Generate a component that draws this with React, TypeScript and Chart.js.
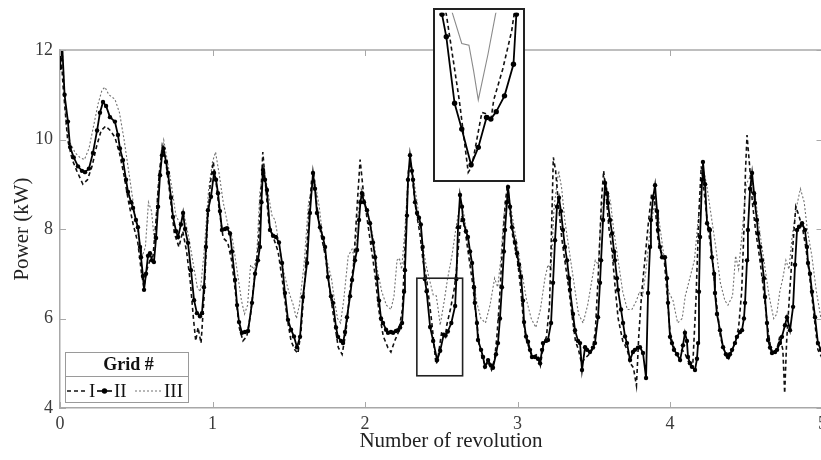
import React, { useEffect, useRef } from 'react';
import { Chart, registerables } from 'chart.js';

Chart.register(...registerables);

// ---------- data ----------
const xTickValues = [0, 1, 2, 3, 4, 5];
const yTickValues = [4, 6, 8, 10, 12];
const seriesNames = ['I', 'II', 'III'];
const legendTitle = 'Grid #';
const xTitle = 'Number of revolution';
const yTitle = 'Power (kW)';

// [revolution, power kW]
const gridI: [number, number][] = [
  [0, 12.3], [0.02, 11.2], [0.05, 10.0], [0.08, 9.55], [0.11, 9.3], [0.15, 9.0], [0.18, 9.1], [0.21, 9.4],
  [0.24, 9.85], [0.27, 10.2], [0.3, 10.3], [0.33, 10.2], [0.36, 10.05], [0.39, 9.7], [0.42, 9.2], [0.45, 8.6],
  [0.48, 8.1], [0.51, 7.7], [0.535, 7.0], [0.55, 6.7], [0.57, 7.1], [0.59, 7.3], [0.61, 7.4], [0.63, 8.2],
  [0.65, 9.2], [0.67, 9.85], [0.69, 9.6], [0.72, 8.8], [0.75, 7.9], [0.78, 7.6], [0.805, 7.95], [0.83, 7.5],
  [0.855, 6.8], [0.875, 6.0], [0.89, 5.5], [0.905, 5.8], [0.925, 5.45], [0.945, 6.5], [0.965, 8.0], [0.985, 9.0],
  [1.005, 9.5], [1.025, 9.0], [1.045, 8.4], [1.07, 7.8], [1.1, 7.7], [1.125, 7.3], [1.15, 6.6], [1.175, 5.8],
  [1.2, 5.5], [1.225, 5.6], [1.25, 6.1], [1.275, 6.9], [1.3, 7.6], [1.315, 8.6], [1.33, 9.72], [1.345, 9.1],
  [1.37, 8.1], [1.4, 7.8], [1.43, 7.5], [1.46, 6.8], [1.49, 6.0], [1.515, 5.5], [1.54, 5.3], [1.56, 5.22],
  [1.58, 5.7], [1.6, 6.6], [1.625, 7.9], [1.65, 9.1], [1.665, 9.2], [1.685, 8.5], [1.71, 7.9], [1.74, 7.4],
  [1.77, 6.6], [1.8, 5.9], [1.825, 5.35], [1.85, 5.2], [1.875, 5.7], [1.9, 6.6], [1.925, 7.2], [1.95, 8.6],
  [1.968, 9.55], [1.99, 8.8], [2.015, 8.2], [2.04, 7.6], [2.065, 7.0], [2.09, 6.2], [2.12, 5.6], [2.15, 5.35],
  [2.17, 5.25], [2.195, 5.5], [2.22, 5.7], [2.245, 6.2], [2.265, 7.8], [2.285, 9.3], [2.3, 9.5], [2.315, 9.0],
  [2.335, 8.4], [2.36, 7.9], [2.38, 7.3], [2.404, 6.88], [2.44, 5.85], [2.465, 4.98], [2.475, 5.05], [2.503, 5.7],
  [2.518, 5.68], [2.528, 5.6], [2.536, 5.85], [2.561, 6.22], [2.586, 6.68], [2.6, 7.1], [2.62, 7.9], [2.635, 8.3],
  [2.655, 8.0], [2.68, 7.4], [2.705, 6.8], [2.73, 6.0], [2.75, 5.4], [2.77, 5.1], [2.79, 4.95], [2.81, 5.0],
  [2.83, 4.85], [2.85, 5.1], [2.865, 5.6], [2.88, 6.3], [2.9, 7.5], [2.92, 8.6], [2.935, 9.0], [2.95, 8.4],
  [2.97, 7.8], [3.0, 7.3], [3.02, 6.7], [3.04, 5.9], [3.06, 5.5], [3.08, 5.3], [3.1, 5.15], [3.13, 5.2],
  [3.15, 4.95], [3.17, 5.4], [3.19, 5.6], [3.21, 6.3], [3.222, 7.8], [3.235, 9.6], [3.25, 9.3], [3.27, 8.5],
  [3.29, 7.8], [3.31, 7.3], [3.335, 6.7], [3.36, 6.0], [3.38, 5.5], [3.4, 5.3], [3.42, 5.0], [3.44, 5.1],
  [3.47, 5.2], [3.49, 5.3], [3.51, 5.7], [3.53, 7.0], [3.55, 8.6], [3.565, 9.3], [3.58, 8.8], [3.6, 8.0],
  [3.62, 7.5], [3.64, 6.7], [3.66, 6.0], [3.69, 5.5], [3.72, 5.3], [3.74, 5.0], [3.76, 4.9], [3.78, 4.5],
  [3.795, 5.6], [3.815, 6.6], [3.835, 7.3], [3.86, 8.2], [3.88, 8.8], [3.9, 8.6], [3.92, 7.8], [3.94, 7.5],
  [3.96, 7.4], [3.98, 6.6], [4.0, 5.7], [4.02, 5.4], [4.05, 5.2], [4.08, 5.3], [4.1, 5.2], [4.125, 5.0],
  [4.15, 5.0], [4.17, 6.4], [4.19, 8.4], [4.205, 9.4], [4.225, 8.8], [4.25, 8.0], [4.28, 7.3], [4.3, 6.5],
  [4.33, 5.6], [4.36, 5.2], [4.385, 5.1], [4.41, 5.3], [4.43, 5.5], [4.45, 5.8], [4.47, 6.6], [4.485, 8.0],
  [4.495, 9.3], [4.505, 10.1], [4.52, 9.5], [4.54, 8.6], [4.56, 8.0], [4.59, 7.3], [4.615, 6.6], [4.64, 5.8],
  [4.66, 5.35], [4.68, 5.2], [4.7, 5.3], [4.72, 5.6], [4.74, 5.3], [4.752, 4.33], [4.765, 5.5], [4.785, 6.6],
  [4.805, 7.6], [4.825, 8.5], [4.845, 8.3], [4.87, 8.0], [4.89, 7.6], [4.91, 7.1], [4.93, 6.5], [4.95, 5.9],
  [4.97, 5.3], [5.0, 5.1],
];

const gridII: [number, number][] = [
  [0, 11.6], [0.013, 12.2], [0.03, 11.0], [0.052, 10.4], [0.066, 9.83], [0.09, 9.6], [0.118, 9.4], [0.144, 9.3],
  [0.164, 9.27], [0.19, 9.35], [0.216, 9.7], [0.243, 10.2], [0.262, 10.6], [0.282, 10.84], [0.302, 10.75], [0.328, 10.5],
  [0.36, 10.4], [0.38, 10.1], [0.393, 9.8], [0.413, 9.54], [0.433, 9.1], [0.446, 8.83], [0.466, 8.6], [0.479, 8.47],
  [0.498, 8.2], [0.511, 8.04], [0.525, 7.6], [0.531, 7.37], [0.544, 6.95], [0.551, 6.64], [0.564, 7.0], [0.577, 7.4],
  [0.59, 7.46], [0.603, 7.3], [0.616, 7.26], [0.63, 7.8], [0.643, 8.5], [0.656, 9.2], [0.669, 9.65], [0.679, 9.8],
  [0.695, 9.5], [0.708, 9.25], [0.728, 8.7], [0.741, 8.27], [0.761, 7.95], [0.774, 7.82], [0.793, 8.1], [0.807, 8.36],
  [0.82, 8.0], [0.839, 7.69], [0.859, 7.08], [0.879, 6.41], [0.898, 6.12], [0.918, 6.05], [0.931, 6.12], [0.944, 6.7],
  [0.957, 7.6], [0.97, 8.42], [0.99, 8.72], [1.01, 9.25], [1.023, 9.1], [1.036, 8.8], [1.049, 8.4], [1.062, 7.98],
  [1.082, 8.0], [1.095, 8.02], [1.115, 7.9], [1.128, 7.5], [1.148, 6.86], [1.161, 6.3], [1.174, 5.92], [1.193, 5.68],
  [1.213, 5.7], [1.233, 5.72], [1.259, 6.35], [1.279, 7.0], [1.298, 7.3], [1.311, 7.6], [1.321, 8.6], [1.331, 9.32],
  [1.344, 9.1], [1.357, 8.87], [1.377, 7.98], [1.397, 7.85], [1.416, 7.82], [1.436, 7.7], [1.456, 7.24], [1.475, 6.57],
  [1.495, 5.97], [1.515, 5.75], [1.534, 5.6], [1.554, 5.36], [1.574, 5.59], [1.593, 6.48], [1.62, 7.24], [1.639, 8.36],
  [1.659, 9.25], [1.672, 8.9], [1.685, 8.36], [1.705, 8.04], [1.725, 7.8], [1.738, 7.6], [1.757, 6.93], [1.777, 6.5],
  [1.79, 6.35], [1.81, 5.8], [1.823, 5.59], [1.843, 5.5], [1.856, 5.45], [1.869, 5.7], [1.882, 6.03], [1.902, 6.5],
  [1.915, 6.86], [1.934, 7.3], [1.948, 7.53], [1.961, 8.2], [1.97, 8.6], [1.98, 8.8], [1.993, 8.6], [2.013, 8.42],
  [2.033, 8.13], [2.052, 7.7], [2.066, 7.37], [2.079, 6.9], [2.092, 6.4], [2.105, 6.0], [2.118, 5.9], [2.138, 5.75],
  [2.151, 5.68], [2.17, 5.7], [2.184, 5.68], [2.203, 5.72], [2.216, 5.74], [2.23, 5.8], [2.243, 5.9], [2.256, 6.6],
  [2.262, 7.08], [2.275, 8.3], [2.282, 9.1], [2.295, 9.65], [2.308, 9.3], [2.315, 9.1], [2.328, 8.6], [2.341, 8.36],
  [2.354, 8.25], [2.366, 8.1], [2.378, 7.6], [2.392, 6.88], [2.404, 6.61], [2.427, 5.81], [2.447, 5.5], [2.473, 5.07],
  [2.493, 5.28], [2.516, 5.64], [2.528, 5.62], [2.543, 5.71], [2.566, 5.9], [2.591, 6.28], [2.599, 6.88], [2.61, 8.04],
  [2.623, 8.76], [2.636, 8.5], [2.643, 8.2], [2.662, 7.95], [2.675, 7.82], [2.689, 7.5], [2.702, 7.24], [2.715, 6.7],
  [2.72, 6.35], [2.734, 5.9], [2.741, 5.52], [2.761, 5.3], [2.774, 5.14], [2.787, 4.92], [2.807, 5.07], [2.826, 4.95],
  [2.839, 4.9], [2.859, 5.2], [2.872, 5.45], [2.885, 6.0], [2.898, 6.7], [2.911, 7.5], [2.918, 7.98], [2.931, 8.6],
  [2.938, 8.94], [2.951, 8.5], [2.964, 8.04], [2.984, 7.7], [2.997, 7.46], [3.01, 7.2], [3.023, 6.93], [3.036, 6.4],
  [3.043, 5.92], [3.056, 5.6], [3.069, 5.48], [3.082, 5.3], [3.095, 5.14], [3.115, 5.14], [3.134, 5.1], [3.148, 5.0],
  [3.161, 5.3], [3.167, 5.45], [3.187, 5.5], [3.2, 5.52], [3.22, 5.9], [3.233, 6.8], [3.246, 7.75], [3.259, 8.5],
  [3.272, 8.7], [3.285, 8.4], [3.298, 7.98], [3.311, 7.6], [3.325, 7.3], [3.338, 6.9], [3.344, 6.64], [3.364, 6.1],
  [3.377, 5.74], [3.397, 5.5], [3.41, 5.45], [3.423, 4.85], [3.443, 5.36], [3.456, 5.3], [3.475, 5.25], [3.495, 5.35],
  [3.508, 5.45], [3.528, 6.03], [3.541, 6.8], [3.548, 7.3], [3.561, 8.2], [3.574, 9.03], [3.587, 8.8], [3.593, 8.58],
  [3.607, 8.2], [3.62, 7.9], [3.633, 7.5], [3.639, 7.3], [3.652, 6.9], [3.659, 6.64], [3.679, 6.2], [3.692, 5.9],
  [3.705, 5.6], [3.718, 5.45], [3.738, 5.07], [3.757, 5.25], [3.77, 5.3], [3.79, 5.35], [3.803, 5.36], [3.823, 5.23],
  [3.843, 4.67], [3.856, 6.57], [3.869, 7.6], [3.875, 8.2], [3.889, 8.7], [3.902, 8.98], [3.915, 8.4], [3.921, 7.98],
  [3.934, 7.6], [3.948, 7.37], [3.967, 7.37], [3.98, 6.9], [3.987, 6.35], [4.0, 5.59], [4.013, 5.45], [4.026, 5.3],
  [4.046, 5.2], [4.066, 5.07], [4.085, 5.4], [4.098, 5.68], [4.111, 5.5], [4.118, 5.14], [4.131, 5.0], [4.144, 4.92],
  [4.164, 4.85], [4.177, 5.1], [4.184, 5.45], [4.19, 6.6], [4.197, 7.82], [4.21, 9.1], [4.216, 9.5], [4.23, 9.0],
  [4.243, 8.13], [4.256, 8.0], [4.262, 7.98], [4.275, 7.37], [4.289, 7.0], [4.295, 6.57], [4.308, 6.1], [4.328, 5.74],
  [4.348, 5.36], [4.367, 5.2], [4.38, 5.14], [4.393, 5.2], [4.407, 5.3], [4.426, 5.45], [4.439, 5.59], [4.459, 5.7],
  [4.472, 5.74], [4.485, 6.0], [4.492, 6.35], [4.505, 7.3], [4.511, 7.98], [4.525, 8.9], [4.538, 9.25], [4.551, 8.8],
  [4.557, 8.58], [4.57, 8.2], [4.577, 7.9], [4.59, 7.6], [4.603, 7.3], [4.616, 6.9], [4.623, 6.48], [4.636, 5.9],
  [4.643, 5.52], [4.656, 5.35], [4.669, 5.23], [4.689, 5.25], [4.702, 5.3], [4.721, 5.45], [4.734, 5.59], [4.754, 5.85],
  [4.767, 6.03], [4.787, 5.74], [4.807, 6.26], [4.82, 7.2], [4.833, 7.98], [4.846, 8.05], [4.866, 8.13], [4.885, 7.98],
  [4.898, 7.6], [4.905, 7.24], [4.918, 7.0], [4.931, 6.6], [4.951, 6.03], [4.97, 5.45], [4.99, 5.3], [5.01, 5.2],
];

const gridIII: [number, number][] = [
  [0, 12.1], [0.012, 12.3], [0.04, 10.3], [0.07, 9.9], [0.1, 9.7], [0.13, 9.6], [0.16, 9.55], [0.19, 9.8],
  [0.22, 10.3], [0.25, 10.8], [0.275, 11.1], [0.295, 11.17], [0.32, 11.0], [0.36, 10.9], [0.39, 10.6], [0.42, 10.0],
  [0.45, 9.3], [0.48, 8.6], [0.51, 7.9], [0.54, 7.4], [0.56, 7.6], [0.58, 8.6], [0.6, 8.4], [0.62, 7.7],
  [0.64, 8.8], [0.665, 9.7], [0.68, 9.99], [0.7, 9.6], [0.73, 9.0], [0.76, 8.3], [0.79, 8.1], [0.815, 8.3],
  [0.845, 7.8], [0.875, 7.2], [0.9, 6.7], [0.92, 6.6], [0.945, 7.5], [0.975, 8.9], [1.0, 9.5], [1.02, 9.72],
  [1.045, 9.2], [1.07, 8.6], [1.1, 8.1], [1.13, 7.8], [1.16, 7.1], [1.19, 6.4], [1.21, 6.1], [1.23, 6.3],
  [1.25, 7.2], [1.27, 7.1], [1.29, 7.4], [1.31, 8.8], [1.335, 9.4], [1.36, 8.9], [1.39, 8.3], [1.41, 8.2],
  [1.44, 7.6], [1.47, 7.0], [1.5, 6.6], [1.53, 6.3], [1.55, 6.0], [1.57, 6.3], [1.6, 7.2], [1.63, 8.6],
  [1.67, 9.1], [1.7, 8.5], [1.72, 7.9], [1.75, 7.3], [1.78, 6.9], [1.8, 6.4], [1.82, 6.0], [1.84, 5.9],
  [1.86, 6.4], [1.89, 7.4], [1.915, 7.55], [1.935, 7.3], [1.95, 8.2], [1.975, 8.9], [2.0, 8.6], [2.03, 8.2],
  [2.06, 7.7], [2.08, 7.1], [2.11, 6.6], [2.14, 6.3], [2.17, 6.2], [2.19, 6.5], [2.21, 7.3], [2.225, 7.35],
  [2.24, 7.1], [2.26, 7.9], [2.28, 9.0], [2.3, 9.5], [2.32, 9.1], [2.35, 8.4], [2.38, 7.6], [2.4, 7.2],
  [2.422, 6.88], [2.447, 6.53], [2.467, 6.51], [2.48, 6.2], [2.493, 5.85], [2.52, 6.4], [2.541, 6.88], [2.57, 7.4],
  [2.6, 8.1], [2.625, 8.6], [2.65, 8.3], [2.68, 7.6], [2.71, 7.0], [2.73, 6.4], [2.76, 6.0], [2.79, 5.9],
  [2.82, 6.3], [2.85, 6.9], [2.87, 6.7], [2.89, 7.3], [2.91, 8.3], [2.94, 8.8], [2.97, 8.2], [3.0, 7.6],
  [3.03, 7.0], [3.06, 6.4], [3.09, 6.0], [3.12, 5.8], [3.15, 6.2], [3.18, 6.9], [3.2, 7.2], [3.22, 7.1],
  [3.24, 8.5], [3.27, 9.3], [3.29, 8.9], [3.31, 8.2], [3.34, 7.5], [3.37, 6.8], [3.4, 6.1], [3.43, 5.9],
  [3.46, 6.3], [3.49, 6.9], [3.51, 7.3], [3.53, 7.2], [3.55, 8.4], [3.58, 9.0], [3.61, 8.6], [3.63, 8.0],
  [3.66, 7.3], [3.69, 6.6], [3.72, 6.2], [3.75, 6.2], [3.78, 6.4], [3.8, 6.6], [3.82, 6.5], [3.84, 7.0],
  [3.87, 8.0], [3.9, 8.6], [3.92, 8.4], [3.94, 7.9], [3.96, 7.4], [3.99, 6.6], [4.02, 6.4], [4.05, 5.9],
  [4.08, 6.0], [4.1, 6.5], [4.13, 6.9], [4.16, 7.3], [4.19, 8.4], [4.22, 9.3], [4.24, 9.0], [4.27, 8.3],
  [4.3, 7.6], [4.33, 6.8], [4.36, 6.4], [4.38, 6.3], [4.41, 6.5], [4.43, 7.4], [4.45, 7.1], [4.47, 7.8],
  [4.5, 9.0], [4.53, 9.2], [4.56, 8.7], [4.59, 7.9], [4.62, 7.2], [4.65, 6.5], [4.68, 6.0], [4.7, 6.1],
  [4.72, 6.6], [4.74, 6.9], [4.76, 7.3], [4.78, 7.1], [4.8, 7.8], [4.83, 8.5], [4.855, 8.9], [4.88, 8.6],
  [4.9, 8.0], [4.93, 7.4], [4.96, 6.6], [4.99, 6.0],
];

// zoomed window marked on the main plot, and the range shown in the inset
const zoomWindow = [2.34, 2.64, 4.72, 6.9];
const insetRange = [2.38, 2.61, 4.92, 6.9];

// ---------- styling ----------
const SERIF = '"Liberation Serif", "Times New Roman", "DejaVu Serif", serif';
const AXIS = '#a8a8a8';
const TEXT = '#3a3a3a';

const toPts = (arr: [number, number][]) => arr.map(([x, y]) => ({ x, y }));

function makeDatasets(inset: boolean) {
  return [
    {
      label: seriesNames[1], data: toPts(gridII), borderColor: '#000', borderWidth: 1.8,
      pointRadius: inset ? 2.7 : 2.2, pointHoverRadius: 0, pointBackgroundColor: '#000', pointBorderWidth: 0,
      pointStyle: 'circle', tension: 0, fill: false,
    },
    {
      label: seriesNames[0], data: toPts(gridI), borderColor: '#111', borderWidth: 1.6, borderDash: [4, 3],
      pointRadius: 0, tension: 0, fill: false,
    },
    {
      label: seriesNames[2], data: toPts(gridIII), borderColor: inset ? '#8a8a8a' : '#707070',
      borderWidth: 1.1, borderDash: inset ? [] : [2, 2], pointRadius: 0, tension: 0, fill: false,
    },
  ];
}

const decorPlugin = {
  id: 'decor',
  afterDatasetsDraw(chart: any) {
    const { ctx, chartArea: a, scales } = chart;
    const x = scales.x, y = scales.y;
    ctx.save();
    const line = (x1: number, y1: number, x2: number, y2: number) => {
      ctx.beginPath(); ctx.moveTo(x1, y1); ctx.lineTo(x2, y2); ctx.stroke();
    };
    // top frame line
    ctx.strokeStyle = AXIS; ctx.lineWidth = 1.5; ctx.setLineDash([]);
    line(a.left, a.top, a.right, a.top);
    // inward ticks
    ctx.lineWidth = 1;
    xTickValues.forEach((v) => {
      const px = Math.round(x.getPixelForValue(v)) + 0.5;
      line(px, a.bottom, px, a.bottom - 6);
      line(px, a.top, px, a.top + 6);
    });
    yTickValues.forEach((v) => {
      const py = Math.round(y.getPixelForValue(v)) + 0.5;
      line(a.left, py, a.left + 6, py);
      line(a.right, py, a.right - 6, py);
    });
    // zoom window rectangle
    const bx0 = x.getPixelForValue(zoomWindow[0]);
    const bx1 = x.getPixelForValue(zoomWindow[1]);
    const by0 = y.getPixelForValue(zoomWindow[3]);
    const by1 = y.getPixelForValue(zoomWindow[2]);
    ctx.strokeStyle = '#222'; ctx.lineWidth = 1.6;
    ctx.strokeRect(bx0, by0, bx1 - bx0, by1 - by0);

    // legend
    const lx = a.left + 5, ly = a.bottom - 56, lw = 123, lh = 50;
    ctx.fillStyle = '#fff'; ctx.fillRect(lx, ly, lw, lh);
    ctx.strokeStyle = '#9a9a9a'; ctx.lineWidth = 1;
    ctx.strokeRect(lx + 0.5, ly + 0.5, lw, lh);
    line(lx, ly + 24.5, lx + lw, ly + 24.5);
    ctx.fillStyle = '#111';
    ctx.textBaseline = 'middle';
    ctx.textAlign = 'center';
    ctx.font = `bold 18px ${SERIF}`;
    ctx.fillText(legendTitle, lx + lw / 2 + 2, ly + 13);
    const ry = ly + 39;
    ctx.font = `19px ${SERIF}`;
    ctx.textAlign = 'left';
    // I
    ctx.strokeStyle = '#111'; ctx.lineWidth = 1.5; ctx.setLineDash([4, 3]);
    line(lx + 2, ry, lx + 22, ry);
    ctx.setLineDash([]);
    ctx.fillText(seriesNames[0], lx + 24, ry + 1);
    // II
    ctx.strokeStyle = '#000'; ctx.lineWidth = 1.6;
    line(lx + 32, ry, lx + 47, ry);
    ctx.fillStyle = '#000';
    ctx.beginPath(); ctx.arc(lx + 39.5, ry, 2.7, 0, Math.PI * 2); ctx.fill();
    ctx.fillStyle = '#111';
    ctx.fillText(seriesNames[1], lx + 49, ry + 1);
    // III
    ctx.strokeStyle = '#707070'; ctx.lineWidth = 1; ctx.setLineDash([2, 2]);
    line(lx + 70, ry, lx + 97, ry);
    ctx.setLineDash([]);
    ctx.fillText(seriesNames[2], lx + 99, ry + 1);

    // axis titles
    ctx.fillStyle = '#222';
    ctx.font = `21px ${SERIF}`;
    ctx.textAlign = 'center';
    ctx.textBaseline = 'middle';
    ctx.fillText(xTitle, 451, 441);
    ctx.translate(22, (a.top + a.bottom) / 2);
    ctx.rotate(-Math.PI / 2);
    ctx.fillText(yTitle, 0, 0);
    ctx.restore();
  },
};

export default function App() {
  const mainRef = useRef<HTMLCanvasElement>(null);
  const insetRef = useRef<HTMLCanvasElement>(null);

  useEffect(() => {
    document.body.style.margin = '0';
    const tickFont = { family: SERIF, size: 18 };
    const main = new Chart(mainRef.current as HTMLCanvasElement, {
      type: 'line',
      data: { datasets: makeDatasets(false) as any },
      plugins: [decorPlugin],
      options: {
        animation: false,
        responsive: false,
        maintainAspectRatio: false,
        events: [],
        layout: { padding: { top: 50, right: 9, left: 0, bottom: 0 } },
        plugins: { legend: { display: false }, tooltip: { enabled: false } },
        scales: {
          x: {
            type: 'linear', min: 0, max: 5,
            afterBuildTicks: (s: any) => { s.ticks = xTickValues.map((v) => ({ value: v })); },
            afterFit: (s: any) => { s.height = 52; },
            grid: { display: false, drawTicks: false },
            border: { display: true, color: AXIS, width: 1.5 },
            ticks: { color: TEXT, font: tickFont, padding: 5, maxRotation: 0, autoSkip: false },
            title: { display: false },
          },
          y: {
            type: 'linear', min: 4, max: 12,
            afterBuildTicks: (s: any) => { s.ticks = yTickValues.map((v) => ({ value: v })); },
            afterFit: (s: any) => { s.width = 60; },
            grid: { display: false, drawTicks: false },
            border: { display: true, color: AXIS, width: 1.5 },
            ticks: { color: TEXT, font: tickFont, padding: 7, autoSkip: false },
            title: { display: false },
          },
        },
      } as any,
    });

    const inset = new Chart(insetRef.current as HTMLCanvasElement, {
      type: 'line',
      data: { datasets: makeDatasets(true) as any },
      options: {
        animation: false,
        responsive: false,
        maintainAspectRatio: false,
        events: [],
        layout: { padding: 0 },
        plugins: { legend: { display: false }, tooltip: { enabled: false } },
        scales: {
          x: { type: 'linear', min: insetRange[0], max: insetRange[1], display: false },
          y: { type: 'linear', min: insetRange[2], max: insetRange[3], display: false },
        },
      } as any,
    });

    return () => { main.destroy(); inset.destroy(); };
  }, []);

  return (
    <div style={{ position: 'relative', width: 821, height: 460, overflow: 'hidden', background: '#fff' }}>
      <canvas ref={mainRef} width={832} height={460} style={{ display: 'block', width: 832, height: 460 }} />
      <div
        style={{
          position: 'absolute', left: 433, top: 8, width: 92, height: 174, boxSizing: 'border-box',
          border: '2px solid #222', background: '#fff', overflow: 'hidden',
        }}
      >
        <canvas ref={insetRef} width={88} height={170} style={{ display: 'block', width: 88, height: 170 }} />
      </div>
    </div>
  );
}
